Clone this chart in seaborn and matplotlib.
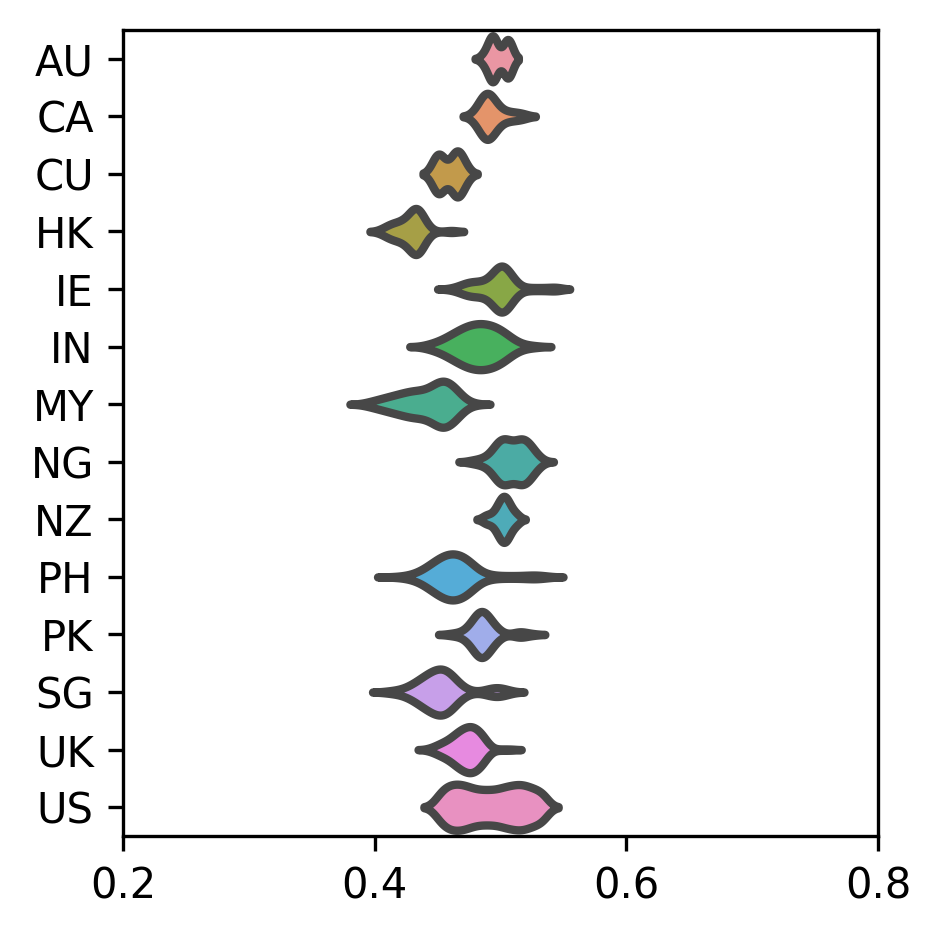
import numpy as np
import pandas as pd
import matplotlib
matplotlib.use("Agg")
import matplotlib.pyplot as plt
import seaborn as sns

countries = ["AU", "CA", "CU", "HK", "IE", "IN", "MY", "NG", "NZ", "PH", "PK", "SG", "UK", "US"]

AU_values = [0.487, 0.488, 0.491, 0.493, 0.494, 0.495, 0.497, 0.504, 0.505, 0.506, 0.507]
AU_counts = [1, 1, 1, 3, 4, 3, 1, 1, 2, 4, 3]

CA_values = [0.481, 0.484, 0.486, 0.488, 0.490, 0.492, 0.495, 0.499, 0.504, 0.510, 0.517]
CA_counts = [1, 1, 2, 2, 3, 2, 2, 1, 1, 1, 1]

CU_values = [0.448, 0.450, 0.451, 0.452, 0.454, 0.462, 0.464, 0.465, 0.466, 0.467, 0.470, 0.472]
CU_counts = [1, 2, 2, 1, 1, 1, 1, 2, 2, 1, 1, 1]

HK_values = [0.406, 0.410, 0.414, 0.418, 0.422, 0.425, 0.428, 0.431, 0.433, 0.435, 0.437, 0.440, 0.443, 0.461]
HK_counts = [1, 2, 3, 3, 3, 3, 4, 5, 6, 5, 4, 2, 1, 1]

IE_values = [0.460, 0.464, 0.467, 0.470, 0.473, 0.476, 0.479, 0.482, 0.485, 0.488, 0.491, 0.494, 0.497,
             0.500, 0.503, 0.506, 0.509, 0.512, 0.515, 0.520, 0.525, 0.530, 0.535, 0.540, 0.545]
IE_counts = [2, 3, 5, 8, 11, 12, 12, 12, 12, 12, 16, 24, 36, 44, 44, 32, 20, 12, 4, 4, 4, 4, 4, 4, 8]

IN_values = [0.440, 0.444, 0.448, 0.452, 0.456, 0.460, 0.464, 0.468, 0.472, 0.476, 0.480, 0.484,
             0.488, 0.492, 0.496, 0.500, 0.504, 0.508, 0.512, 0.516, 0.520, 0.524, 0.528]
IN_counts = [1, 2, 3, 4, 6, 8, 10, 12, 14, 15, 16, 16, 16, 15, 14, 12, 10, 6, 4, 2, 1, 1, 1]

MY_values = [0.392, 0.396, 0.400, 0.404, 0.408, 0.412, 0.416, 0.420, 0.424, 0.428, 0.432, 0.436,
             0.440, 0.444, 0.448, 0.452, 0.456, 0.460, 0.464, 0.468, 0.472, 0.476, 0.480]
MY_counts = [2, 4, 6, 8, 10, 12, 14, 16, 18, 20, 22, 20, 22, 24, 32, 38, 40, 34, 26, 16, 6, 2, 2]

NG_values = [0.476, 0.479, 0.482, 0.485, 0.488, 0.491, 0.494, 0.497, 0.500, 0.503, 0.506, 0.509,
             0.512, 0.515, 0.518, 0.521, 0.524, 0.527, 0.530, 0.533]
NG_counts = [1, 1, 1, 2, 2, 3, 6, 9, 12, 12, 10, 9, 9, 11, 12, 11, 8, 5, 3, 1]

NZ_values = [0.488, 0.490, 0.494, 0.497, 0.499, 0.501, 0.503, 0.505, 0.507, 0.509, 0.512, 0.513]
NZ_counts = [1, 1, 1, 2, 2, 3, 4, 3, 2, 1, 1, 1]

PH_values = [0.414, 0.418, 0.422, 0.426, 0.430, 0.434, 0.438, 0.442, 0.446, 0.450, 0.454, 0.458,
             0.462, 0.466, 0.470, 0.474, 0.478, 0.482, 0.486, 0.490, 0.494, 0.498, 0.502, 0.506,
             0.510, 0.514, 0.518, 0.522, 0.526, 0.530, 0.534, 0.538]
PH_counts = [1, 1, 2, 4, 6, 10, 16, 23, 32, 40, 47, 52, 54, 51, 48, 40, 28, 16, 8, 6, 4, 3, 3, 3,
             3, 3, 3, 4, 5, 5, 3, 2]

PK_values = [0.461, 0.466, 0.470, 0.474, 0.478, 0.482, 0.485, 0.488, 0.492, 0.496, 0.500, 0.514, 0.517, 0.525]
PK_counts = [1, 1, 1, 3, 7, 10, 11, 10, 7, 4, 1, 2, 2, 1]

SG_values = [0.411, 0.415, 0.419, 0.423, 0.427, 0.431, 0.435, 0.439, 0.443, 0.447, 0.451, 0.455,
             0.459, 0.463, 0.467, 0.471, 0.475, 0.488, 0.491, 0.494, 0.497, 0.500, 0.503, 0.506]
SG_counts = [2, 2, 2, 4, 6, 10, 14, 18, 22, 26, 28, 30, 26, 18, 8, 4, 2, 2, 4, 4, 6, 4, 4, 2]

UK_values = [0.443, 0.447, 0.450, 0.453, 0.456, 0.459, 0.462, 0.465, 0.468, 0.471, 0.474, 0.477,
             0.480, 0.483, 0.486, 0.489, 0.492, 0.501, 0.508]
UK_counts = [1, 2, 3, 4, 5, 6, 8, 10, 12, 13, 14, 15, 13, 12, 9, 5, 1, 1, 1]

US_values = [0.449, 0.453, 0.457, 0.461, 0.465, 0.469, 0.473, 0.477, 0.481, 0.485, 0.489, 0.493,
             0.497, 0.501, 0.505, 0.509, 0.513, 0.517, 0.521, 0.525, 0.529, 0.533, 0.536]
US_counts = [80, 144, 176, 192, 192, 192, 176, 160, 144, 144, 144, 144, 144, 160, 176, 176, 192,
             192, 176, 160, 144, 128, 80]

series = {
    "AU": (AU_values, AU_counts), "CA": (CA_values, CA_counts), "CU": (CU_values, CU_counts),
    "HK": (HK_values, HK_counts), "IE": (IE_values, IE_counts), "IN": (IN_values, IN_counts),
    "MY": (MY_values, MY_counts), "NG": (NG_values, NG_counts), "NZ": (NZ_values, NZ_counts),
    "PH": (PH_values, PH_counts), "PK": (PK_values, PK_counts), "SG": (SG_values, SG_counts),
    "UK": (UK_values, UK_counts), "US": (US_values, US_counts),
}

frames = []
for c in countries:
    vals, cnts = series[c]
    v = np.repeat(np.asarray(vals, dtype=float), np.asarray(cnts, dtype=int))
    frames.append(pd.DataFrame({"country": c, "value": v}))
df = pd.concat(frames, ignore_index=True)

palette = sns.husl_palette(len(countries), l=.7)

fig, ax = plt.subplots(figsize=(941 / 300, 937 / 300), dpi=300)
fig.subplots_adjust(left=0.1307, right=0.933, top=0.968, bottom=0.1078)

sns.violinplot(data=df, x="value", y="country", hue="country", order=countries,
               hue_order=countries, palette=palette, orient="h", inner=None,
               density_norm="width", linewidth=2, legend=False, ax=ax)

ax.set_xlim(0.2, 0.8)
ax.set_xticks([0.2, 0.4, 0.6, 0.8])
ax.set_xticklabels(["0.2", "0.4", "0.6", "0.8"])
ax.set_xlabel("")
ax.set_ylabel("")

fig.savefig("out.png", dpi=300)
